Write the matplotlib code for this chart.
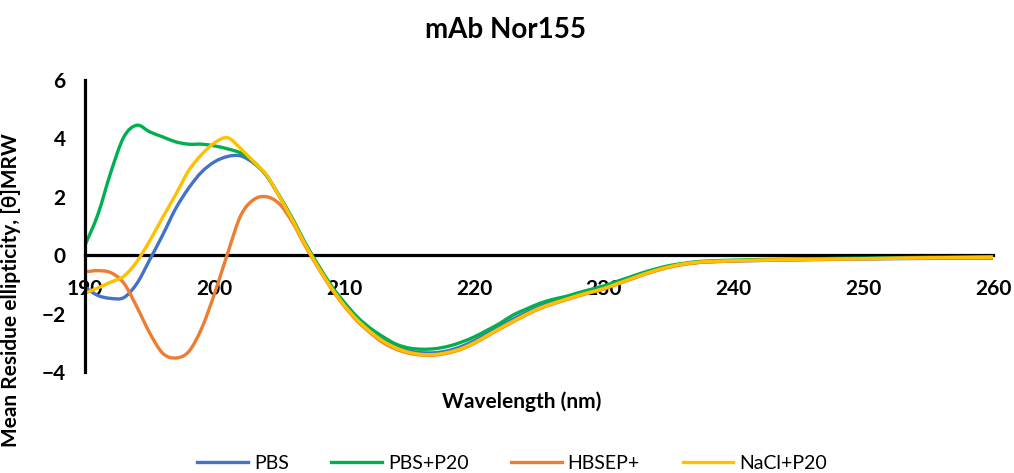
import numpy as np
import matplotlib
matplotlib.use("Agg")
import matplotlib.pyplot as plt
from matplotlib.path import Path
from matplotlib.patches import PathPatch
from matplotlib.lines import Line2D

plt.rcParams['font.family'] = ['Lato', 'DejaVu Sans']

# wavelength grid (nm)
wl = [190, 191, 192, 193, 194, 195, 196, 197, 198, 199,
      200, 201, 202, 203, 204, 205, 206, 207, 208, 209,
      210, 211, 212, 213, 214, 215, 216, 217, 218, 219,
      220, 221, 222, 223, 224, 225, 226, 227, 228, 229,
      230, 231, 232, 233, 234, 235, 236, 237, 238, 240,
      242, 245, 248, 250, 252, 255, 258, 260]

pbs = [-1.10, -1.38, -1.48, -1.45, -0.97, -0.15, 0.70, 1.60, 2.30, 2.85,
       3.20, 3.38, 3.40, 3.15, 2.72, 2.00, 1.22, 0.38, -0.40, -1.10,
       -1.70, -2.20, -2.60, -2.92, -3.14, -3.28, -3.34, -3.34, -3.27, -3.13,
       -2.93, -2.68, -2.43, -2.19, -1.97, -1.77, -1.61, -1.47, -1.33, -1.21,
       -1.09, -0.94, -0.79, -0.64, -0.50, -0.39, -0.31, -0.26, -0.23, -0.20,
       -0.18, -0.16, -0.14, -0.13, -0.12, -0.11, -0.10, -0.10]

pbs_p20 = [0.34, 1.40, 2.85, 4.05, 4.45, 4.22, 4.05, 3.88, 3.80, 3.80,
           3.74, 3.64, 3.50, 3.20, 2.72, 2.02, 1.25, 0.40, -0.35, -1.05,
           -1.62, -2.12, -2.50, -2.80, -3.05, -3.18, -3.22, -3.20, -3.12, -2.98,
           -2.80, -2.57, -2.33, -2.05, -1.85, -1.66, -1.52, -1.42, -1.29, -1.17,
           -1.05, -0.90, -0.75, -0.60, -0.47, -0.36, -0.29, -0.23, -0.20, -0.17,
           -0.15, -0.13, -0.11, -0.10, -0.09, -0.07, -0.06, -0.05]

hbsep = [-0.57, -0.53, -0.60, -0.96, -1.77, -2.67, -3.36, -3.52, -3.30, -2.50,
         -1.30, 0.07, 1.35, 1.90, 2.00, 1.75, 1.12, 0.30, -0.45, -1.15,
         -1.75, -2.26, -2.66, -3.00, -3.22, -3.36, -3.42, -3.42, -3.35, -3.22,
         -3.02, -2.77, -2.52, -2.28, -2.05, -1.84, -1.68, -1.54, -1.40, -1.28,
         -1.16, -1.00, -0.84, -0.68, -0.54, -0.42, -0.33, -0.27, -0.23, -0.20,
         -0.18, -0.15, -0.13, -0.12, -0.11, -0.09, -0.08, -0.07]

nacl_p20 = [-1.30, -1.12, -0.92, -0.72, -0.22, 0.50, 1.30, 2.08, 2.90, 3.45,
            3.85, 4.02, 3.65, 3.20, 2.74, 2.00, 1.20, 0.35, -0.42, -1.12,
            -1.72, -2.22, -2.62, -2.95, -3.18, -3.33, -3.40, -3.40, -3.33, -3.20,
            -3.00, -2.75, -2.50, -2.26, -2.03, -1.82, -1.66, -1.52, -1.38, -1.26,
            -1.14, -0.98, -0.82, -0.66, -0.52, -0.40, -0.31, -0.25, -0.22, -0.19,
            -0.17, -0.15, -0.13, -0.12, -0.11, -0.09, -0.08, -0.07]

series = [("PBS", pbs, "#4472C4"),
          ("PBS+P20", pbs_p20, "#00B050"),
          ("HBSEP+", hbsep, "#ED7D31"),
          ("NaCl+P20", nacl_p20, "#FFC000")]

xticks = [190, 200, 210, 220, 230, 240, 250, 260]
yticks = [-4, -2, 0, 2, 4, 6]


def smooth_path(x, y):
    # spreadsheet-style smoothed line: cubic Bezier through every point
    p = np.column_stack([x, y]).astype(float)
    n = len(p)
    verts = [p[0]]
    codes = [Path.MOVETO]
    for i in range(n - 1):
        p0 = p[i - 1] if i > 0 else p[i]
        p3 = p[i + 2] if i + 2 < n else p[i + 1]
        c1 = p[i] + (p[i + 1] - p0) / 6.0
        c2 = p[i + 1] - (p3 - p[i]) / 6.0
        verts += [c1, c2, p[i + 1]]
        codes += [Path.CURVE4] * 3
    return Path(verts, codes)


fig = plt.figure(figsize=(10.14, 4.73), dpi=100)
ax = fig.add_axes([0.0838, 0.2135, 0.8955, 0.6175])

handles = []
for name, vals, col in series:
    ax.add_patch(PathPatch(smooth_path(wl, vals), fill=False, edgecolor=col,
                           lw=2.4, capstyle='round', joinstyle='round', zorder=2))
    handles.append(Line2D([], [], color=col, lw=2.4, label=name))

ax.set_xlim(190, 260)
ax.set_ylim(-4, 6)
ax.set_xticks(xticks)
ax.set_yticks(yticks)

ax.spines['top'].set_visible(False)
ax.spines['right'].set_visible(False)
ax.spines['bottom'].set_position(('data', 0))
ax.spines['bottom'].set_linewidth(2.3)
ax.spines['left'].set_linewidth(2.3)
ax.spines['bottom'].set_zorder(0.5)

ax.tick_params(axis='x', length=0, pad=17, labelsize=15)
ax.tick_params(axis='y', length=0, pad=14, labelsize=15)
for lab in ax.get_xticklabels() + ax.get_yticklabels():
    lab.set_fontweight('bold')

ax.set_xlabel("Wavelength (nm)", fontsize=15, fontweight='bold')
ax.xaxis.set_label_coords(0.481, -0.068)
ax.set_ylabel("Mean Residue ellipticity, [θ]MRW", fontsize=15, fontweight='bold')
ax.yaxis.set_label_coords(-0.07, 0.28)

fig.text(0.499, 1 - 30 / 473, "mAb Nor155", ha='center', va='center',
         fontsize=20, fontweight='bold')

fig.legend(handles=handles, loc='center', bbox_to_anchor=(0.505, 1 - 463 / 473),
           ncol=4, frameon=False, fontsize=14, handlelength=2.6,
           columnspacing=2.2, handletextpad=0.3)

fig.savefig("out.png", dpi=100)
